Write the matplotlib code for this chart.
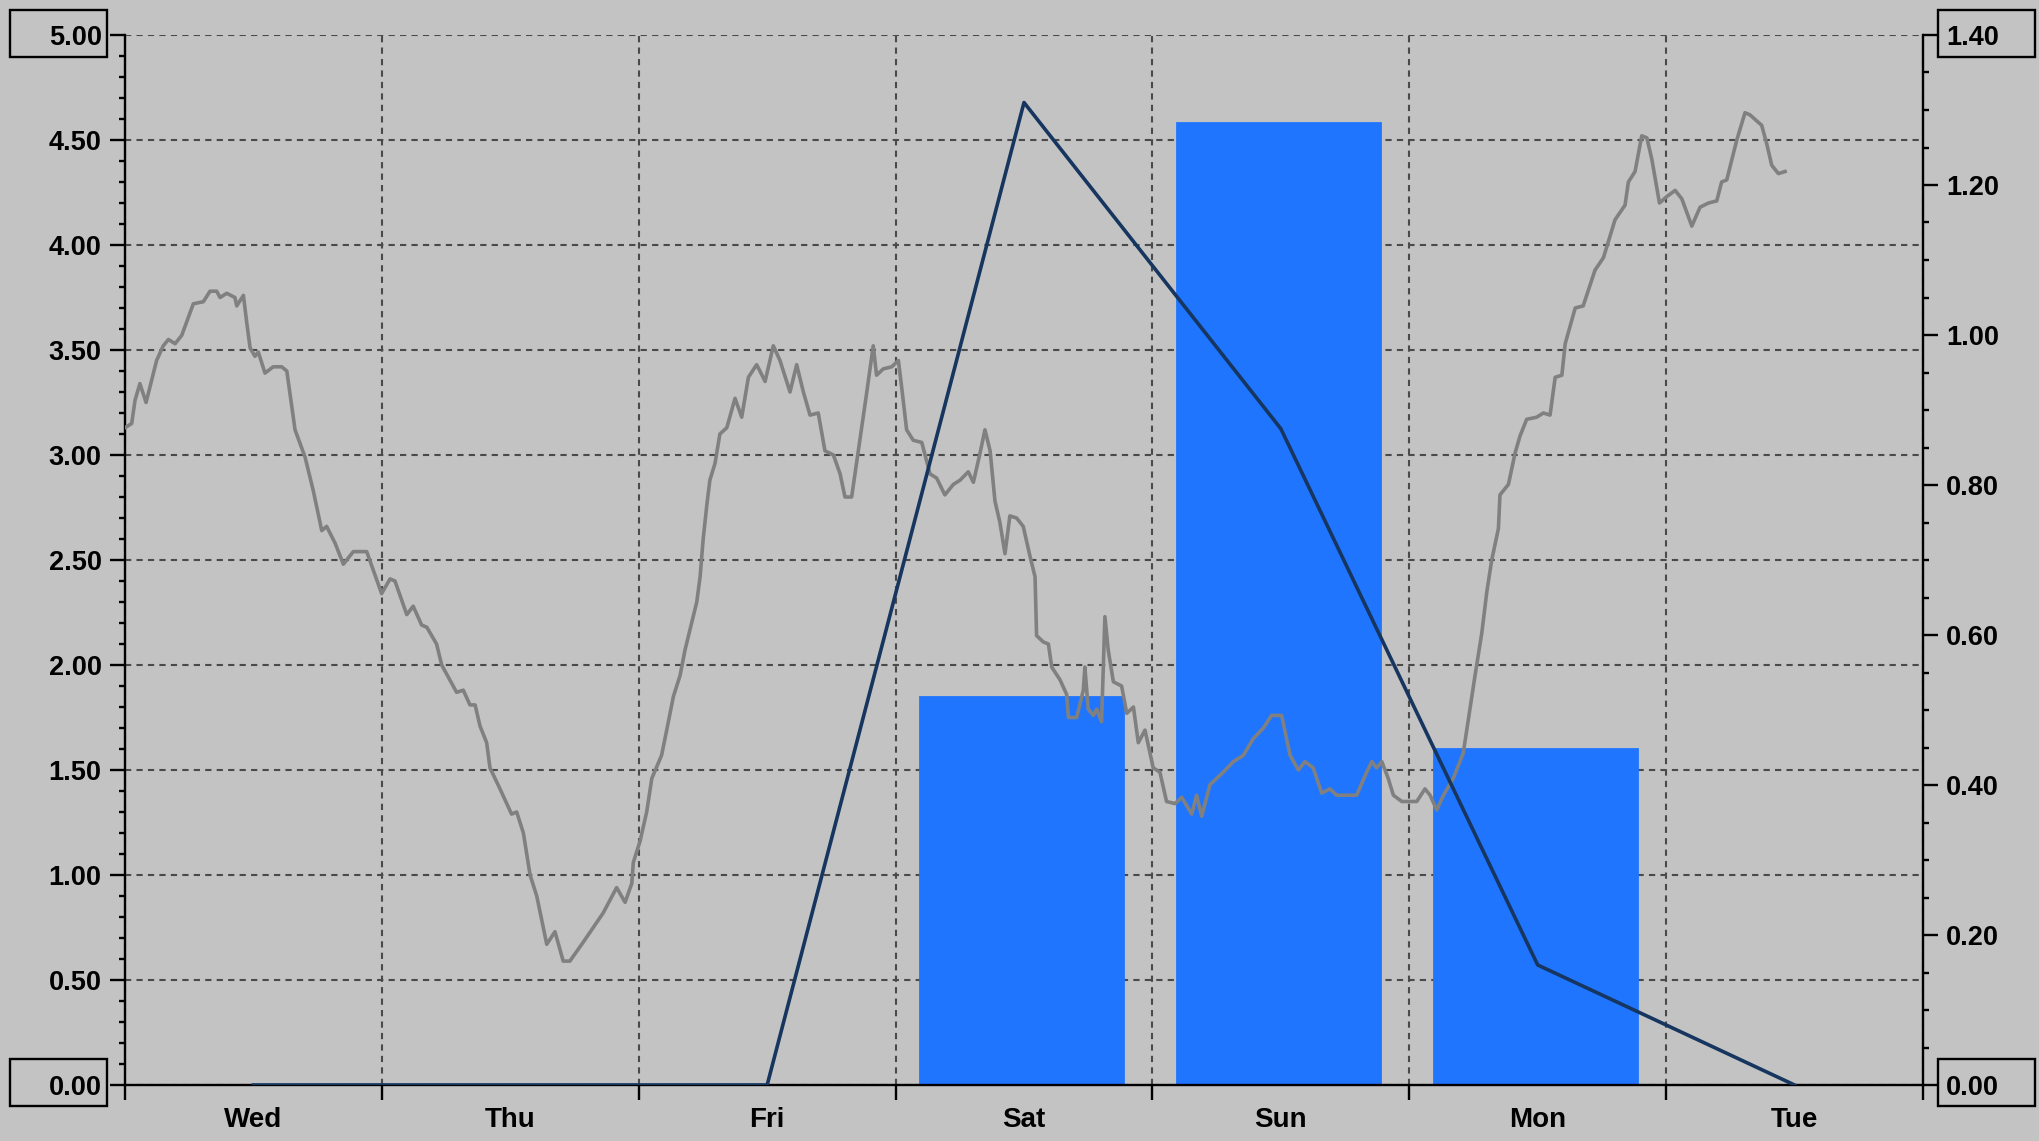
import matplotlib.pyplot as plt
from matplotlib.ticker import MultipleLocator, FormatStrFormatter
from matplotlib.patches import Rectangle

plt.rcParams['font.family'] = ['Liberation Sans', 'DejaVu Sans']
plt.rcParams['font.weight'] = 'bold'

# 每天的柱和折线（柱用左轴，折线用右轴）
days = ['Wed', 'Thu', 'Fri', 'Sat', 'Sun', 'Mon', 'Tue']
bar_values = [0, 0, 0, 1.85, 4.58, 1.60, 0]
line_values = [0, 0, 0, 1.31, 0.875, 0.16, 0]

# 灰色曲线，时间以天为单位（0 = 周三开始）
gray_t = [0.000, 0.026, 0.039, 0.058, 0.082, 0.123, 0.149, 0.169, 0.195, 0.221,
          0.266, 0.305, 0.331, 0.357, 0.370, 0.396, 0.428, 0.435, 0.461, 0.474,
          0.487, 0.506, 0.519, 0.545, 0.577, 0.610, 0.630, 0.662, 0.701, 0.733,
          0.766, 0.785, 0.818, 0.850, 0.889, 0.941, 0.999, 1.032, 1.051, 1.097,
          1.122, 1.155, 1.175, 1.213, 1.233,
          1.291, 1.317, 1.343, 1.363, 1.382, 1.408, 1.421, 1.460, 1.505, 1.525,
          1.551, 1.577, 1.603, 1.642, 1.674, 1.706, 1.732, 1.784, 1.862, 1.914,
          1.947, 1.973, 1.979, 2.005, 2.031, 2.051, 2.089, 2.109, 2.135, 2.161,
          2.180, 2.226, 2.239, 2.251, 2.265, 2.277, 2.297, 2.316, 2.343, 2.375,
          2.401, 2.427, 2.459,
          2.472, 2.492, 2.524, 2.550, 2.589, 2.615, 2.641, 2.667, 2.699, 2.725,
          2.758, 2.784, 2.803, 2.829, 2.855, 2.888, 2.913, 2.926, 2.952, 2.985,
          3.011, 3.024, 3.043, 3.069, 3.102, 3.134, 3.160, 3.192, 3.225, 3.251,
          3.283, 3.303, 3.329, 3.348, 3.368, 3.387, 3.406, 3.426, 3.445, 3.471,
          3.497, 3.523, 3.543, 3.549, 3.575, 3.595, 3.608, 3.640, 3.666, 3.673,
          3.705, 3.731, 3.737, 3.750, 3.770, 3.783, 3.802,
          3.815, 3.828, 3.848, 3.880, 3.900, 3.926, 3.945, 3.971, 4.003, 4.029,
          4.055, 4.088, 4.114, 4.153, 4.172, 4.192, 4.224, 4.276, 4.315, 4.354,
          4.393, 4.432, 4.464, 4.503, 4.536, 4.568, 4.594, 4.626, 4.659, 4.691,
          4.717, 4.795, 4.834, 4.854, 4.873, 4.893, 4.918, 4.938, 4.971, 5.029,
          5.061, 5.081, 5.107, 5.133, 5.171,
          5.210, 5.236, 5.256, 5.282, 5.302, 5.321, 5.347, 5.353, 5.386, 5.412,
          5.431, 5.457, 5.496, 5.522, 5.548, 5.568, 5.594, 5.607, 5.646, 5.677,
          5.723, 5.756, 5.801, 5.840, 5.853, 5.879, 5.905, 5.925, 5.944, 5.974,
          6.002, 6.035, 6.061, 6.100, 6.132, 6.165, 6.197, 6.216, 6.236, 6.275,
          6.307, 6.326, 6.372, 6.392, 6.411, 6.437, 6.463]
gray_v = [3.13, 3.15, 3.26, 3.34, 3.25, 3.45, 3.52, 3.55, 3.53, 3.57,
          3.72, 3.73, 3.78, 3.78, 3.75, 3.77, 3.75, 3.71, 3.76, 3.63,
          3.51, 3.47, 3.49, 3.39, 3.42, 3.42, 3.40, 3.12, 2.99, 2.83,
          2.64, 2.66, 2.58, 2.48, 2.54, 2.54, 2.34, 2.41, 2.40, 2.24,
          2.28, 2.19, 2.18, 2.10, 2.00,
          1.87, 1.88, 1.81, 1.81, 1.71, 1.63, 1.51, 1.41, 1.29, 1.30,
          1.20, 1.00, 0.90, 0.67, 0.73, 0.59, 0.59, 0.68, 0.82, 0.94,
          0.87, 0.96, 1.06, 1.16, 1.30, 1.46, 1.57, 1.69, 1.85, 1.95,
          2.07, 2.30, 2.42, 2.60, 2.76, 2.88, 2.96, 3.10, 3.13, 3.27,
          3.18, 3.37, 3.43,
          3.40, 3.35, 3.52, 3.45, 3.30, 3.43, 3.30, 3.19, 3.20, 3.02,
          3.00, 2.91, 2.80, 2.80, 3.02, 3.30, 3.52, 3.38, 3.41, 3.42,
          3.45, 3.32, 3.12, 3.07, 3.06, 2.91, 2.89, 2.81, 2.86, 2.88,
          2.92, 2.87, 3.01, 3.12, 3.02, 2.78, 2.68, 2.53, 2.71, 2.70,
          2.66, 2.52, 2.42, 2.14, 2.11, 2.10, 1.99, 1.93, 1.86, 1.75,
          1.75, 1.88, 1.99, 1.79, 1.76, 1.79, 1.73,
          2.23, 2.07, 1.92, 1.90, 1.77, 1.80, 1.63, 1.69, 1.51, 1.49,
          1.35, 1.34, 1.37, 1.29, 1.38, 1.28, 1.43, 1.49, 1.54, 1.57,
          1.65, 1.70, 1.76, 1.76, 1.57, 1.50, 1.54, 1.51, 1.39, 1.41,
          1.38, 1.38, 1.49, 1.54, 1.51, 1.54, 1.46, 1.38, 1.35, 1.35,
          1.41, 1.38, 1.31, 1.38, 1.46,
          1.58, 1.79, 1.95, 2.15, 2.35, 2.50, 2.65, 2.81, 2.86, 3.01,
          3.09, 3.17, 3.18, 3.20, 3.19, 3.37, 3.38, 3.53, 3.70, 3.71,
          3.88, 3.94, 4.12, 4.19, 4.30, 4.35, 4.52, 4.51, 4.41, 4.20,
          4.23, 4.26, 4.22, 4.09, 4.18, 4.20, 4.21, 4.30, 4.31, 4.50,
          4.63, 4.62, 4.57, 4.48, 4.38, 4.34, 4.35]

bg = '#c3c3c3'
W, H = 2040, 1141

fig = plt.figure(figsize=(W / 100, H / 100), dpi=100, facecolor=bg)
ax = fig.add_axes([125 / W, 56 / H, 1798 / W, 1050 / H])
ax.set_facecolor(bg)
ax.set_xlim(0, 7)
ax.set_ylim(0, 5)
ax.set_axisbelow(True)

centers = [i + 0.5 for i in range(len(days))]
ax.bar([c - 0.01 for c in centers], bar_values, width=0.79,
       color='#1f75fe', edgecolor='#1f75fe', linewidth=2.0, zorder=1)
ax.plot(gray_t, gray_v, color='#808080', lw=2.6, zorder=3)

ax2 = ax.twinx()
ax2.set_ylim(0, 1.4)
ax2.plot(centers, line_values, color='#16365f', lw=2.6, zorder=4)

# 网格
ax.grid(True, which='major', color='#4a4a4a', linestyle=(0, (3, 2.5)), lw=1.5)

# 坐标轴线
for s in ['top', 'right']:
    ax.spines[s].set_visible(False)
for s in ['top', 'left', 'bottom']:
    ax2.spines[s].set_visible(False)
ax.spines['left'].set_linewidth(1.7)
ax.spines['bottom'].set_linewidth(1.7)
ax2.spines['right'].set_linewidth(1.7)

# 左轴刻度
ax.yaxis.set_major_locator(MultipleLocator(0.5))
ax.yaxis.set_minor_locator(MultipleLocator(0.1))
ax.yaxis.set_major_formatter(FormatStrFormatter('%.2f'))
ax.tick_params(axis='y', which='major', direction='out', length=10.8, width=1.7,
               pad=6, labelsize=19.5)
ax.tick_params(axis='y', which='minor', direction='out', length=4.3, width=1.7)

# 右轴刻度
ax2.yaxis.set_major_locator(MultipleLocator(0.2))
ax2.yaxis.set_minor_locator(MultipleLocator(0.05))
ax2.yaxis.set_major_formatter(FormatStrFormatter('%.2f'))
ax2.tick_params(axis='y', which='major', direction='out', length=10.8, width=1.7,
                pad=6, labelsize=19.5)
ax2.tick_params(axis='y', which='minor', direction='out', length=4.3, width=1.7)

# x 轴：分隔线在整数处，星期名在中间
ax.set_xticks(range(8), labels=[''] * 8)
ax.set_xticks(centers, labels=days, minor=True)
ax.tick_params(axis='x', which='major', direction='out', length=10.8, width=1.7)
ax.tick_params(axis='x', which='minor', length=0, pad=16, labelsize=20)

# 最上和最下刻度标签的方框
for x0 in [10, 1938]:
    for y0 in [10, 1059]:
        fig.add_artist(Rectangle((x0 / W, 1 - (y0 + 47) / H), 97 / W, 47 / H,
                                 transform=fig.transFigure, fill=False,
                                 edgecolor='black', lw=1.7))

fig.savefig('out.png', dpi=100, facecolor=bg)
